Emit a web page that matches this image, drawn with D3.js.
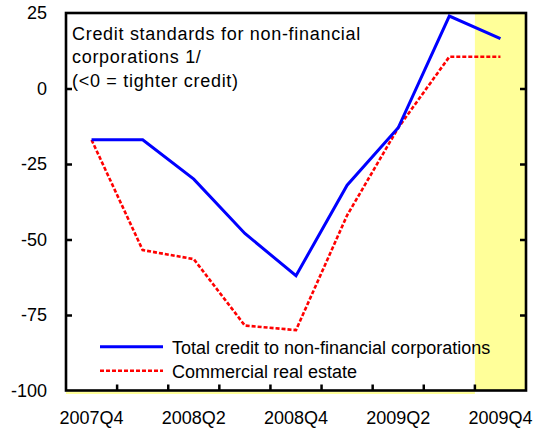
<!DOCTYPE html>
<html>
<head>
<meta charset="utf-8">
<script src="https://cdn.jsdelivr.net/npm/d3@7"></script>
<style>
html,body{margin:0;padding:0;background:#fff;}
text{font-family:"Liberation Sans",Arial,sans-serif;}
</style>
</head>
<body>
<svg id="chart" width="536" height="432"></svg>
<script>
const categories = ["2007Q4","2008Q1","2008Q2","2008Q3","2008Q4","2009Q1","2009Q2","2009Q3","2009Q4"];
const totalCredit = [-17, -17, -30, -48, -62, -32, -13, 24, 16.5];
const commercialRE = [-17, -53.5, -56.5, -78.5, -80, -42, -13, 10.5, 10.5];
const shadedCategories = ["2009Q4"];
const yTicks = [25, 0, -25, -50, -75, -100];
const xLabelCategories = ["2007Q4","2008Q2","2008Q4","2009Q2","2009Q4"];
const titleLines = ["Credit standards for non-financial", "corporations 1/", "(<0 = tighter credit)"];
const seriesNames = ["Total credit to non-financial corporations", "Commercial real estate"];

const svg = d3.select("#chart");
const m = {left: 66, right: 526, top: 13, bottom: 390.5};
const FONT = "'Liberation Sans', Arial, sans-serif";

const x = d3.scaleBand().domain(categories).range([m.left, m.right]).padding(0);
const y = d3.scaleLinear().domain([-100, 25]).range([m.bottom, m.top]);

// shaded band
svg.selectAll("rect.shade").data(shadedCategories).enter().append("rect")
  .attr("class","shade")
  .attr("x", d => x(d)).attr("width", x.bandwidth())
  .attr("y", y(25)).attr("height", y(-100) - y(25))
  .attr("fill", "#FFFF99");
// thin yellow strip under axis
svg.append("rect")
  .attr("x", m.left).attr("width", x(shadedCategories[0]) - m.left)
  .attr("y", m.bottom + 1).attr("height", 2.5)
  .attr("fill", "#FFFF99");

// lines
const line = d3.line().x((d,i) => x(categories[i]) + x.bandwidth()/2).y(d => y(d));
svg.append("path").datum(commercialRE).attr("d", line)
  .attr("fill","none").attr("stroke","#FF0000").attr("stroke-width",2.6)
  .attr("stroke-dasharray","4,2").attr("stroke-linejoin","miter");
svg.append("path").datum(totalCredit).attr("d", line)
  .attr("fill","none").attr("stroke","#0000FF").attr("stroke-width",3)
  .attr("stroke-linejoin","miter");

// frame
svg.append("rect")
  .attr("x", m.left).attr("y", m.top)
  .attr("width", m.right - m.left).attr("height", m.bottom - m.top)
  .attr("fill","none").attr("stroke","#000").attr("stroke-width",2.6);

// left axis
const yAxisL = d3.axisLeft(y).tickValues(yTicks).tickSize(-6).tickPadding(19).tickFormat(d3.format("d"));
const gL = svg.append("g").attr("transform", `translate(${m.left},0)`).call(yAxisL);
gL.select(".domain").remove();
gL.selectAll("line").attr("stroke","#000").attr("stroke-width",2.5)
  .filter(d => d === 25 || d === -100).remove();
gL.selectAll("text").attr("font-size","18px").attr("fill","#000").attr("font-family",FONT)
  .text(d => d < 0 ? "-" + Math.abs(d) : d);

// right axis ticks
const yAxisR = d3.axisRight(y).tickValues(yTicks.filter(d => d !== 25 && d !== -100)).tickSize(-6).tickFormat("");
const gR = svg.append("g").attr("transform", `translate(${m.right},0)`).call(yAxisR);
gR.select(".domain").remove();
gR.selectAll("line").attr("stroke","#000").attr("stroke-width",2.5);

// bottom axis: tick marks at band boundaries
const boundaries = categories.slice(1);
svg.append("g").selectAll("line").data(boundaries).enter().append("line")
  .attr("x1", d => x(d)).attr("x2", d => x(d))
  .attr("y1", m.bottom).attr("y2", m.bottom - 6)
  .attr("stroke","#000").attr("stroke-width",2.5);
const xAxis = d3.axisBottom(x).tickValues(xLabelCategories).tickSize(0).tickPadding(21);
const gB = svg.append("g").attr("transform", `translate(0,${m.bottom})`).call(xAxis);
gB.select(".domain").remove();
gB.selectAll("text").attr("font-size","18px").attr("fill","#000").attr("font-family",FONT);

// title
svg.append("g").selectAll("text").data(titleLines).enter().append("text")
  .attr("x", 72).attr("y", (d,i) => 40 + i*23.3)
  .attr("font-size","18px").attr("letter-spacing","0.7px").attr("fill","#000")
  .text(d => d);

// legend
const legendStyles = [
  {color:"#0000FF", dash:null, w:3},
  {color:"#FF0000", dash:"4,2", w:2.6}
];
const lg = svg.append("g");
seriesNames.forEach((name, i) => {
  const yy = 346.7 + i*24;
  lg.append("line").attr("x1",100).attr("x2",163).attr("y1",yy).attr("y2",yy)
    .attr("stroke",legendStyles[i].color).attr("stroke-width",legendStyles[i].w)
    .attr("stroke-dasharray",legendStyles[i].dash);
  lg.append("text").attr("x",172).attr("y",yy+7).attr("font-size","18px").attr("fill","#000").text(name);
});
</script>
</body>
</html>
